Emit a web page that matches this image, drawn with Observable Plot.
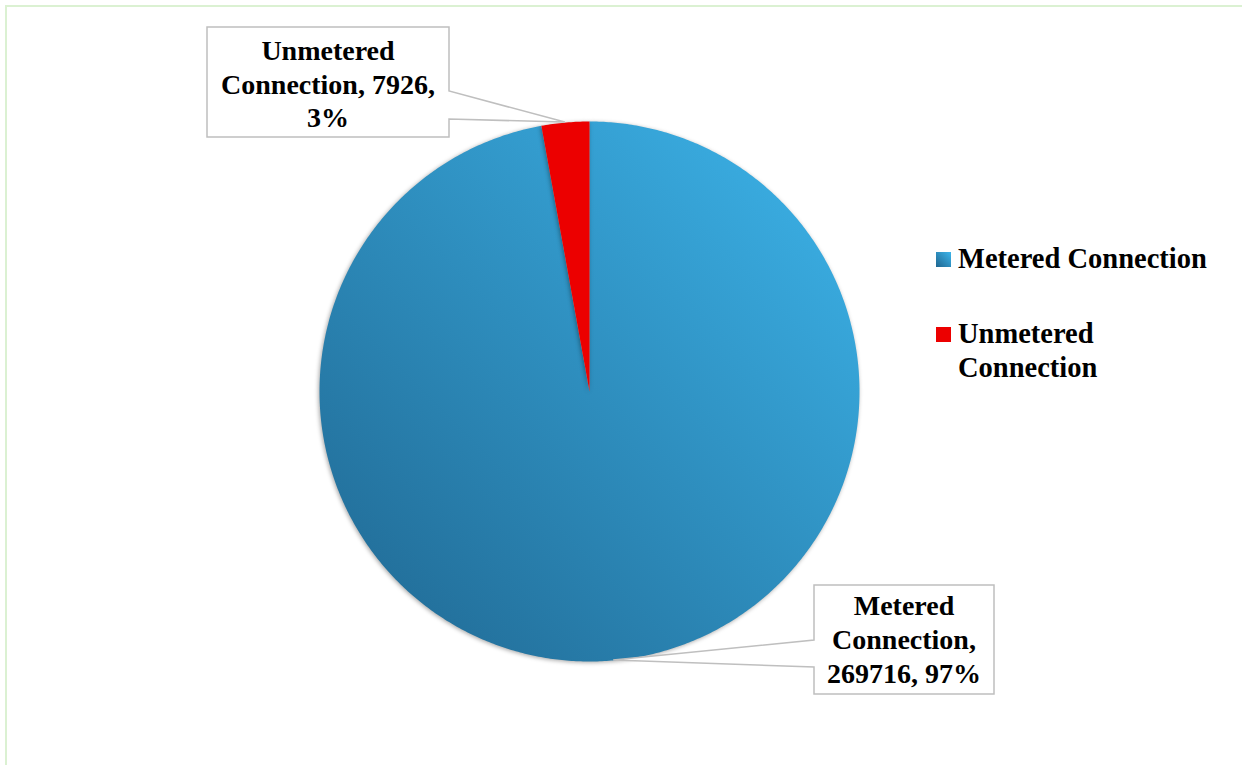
<!DOCTYPE html>
<html>
<head>
<meta charset="utf-8">
<script src="https://cdn.jsdelivr.net/npm/d3@7"></script>
<script src="https://cdn.jsdelivr.net/npm/@observablehq/plot@0.6"></script>
<style>
  html, body { margin: 0; padding: 0; background: #fff; }
  #chart { position: relative; width: 1242px; height: 765px; overflow: hidden; }
  #frame { position: absolute; left: 5px; top: 5px; right: -10px; bottom: -10px;
           border-left: 2px solid #dbf1d2; border-top: 2px solid #dbf1d2; pointer-events: none; }
  #chart svg { position: absolute; left: 0; top: 0; }
</style>
</head>
<body>
<div id="chart"><div id="frame"></div></div>
<script>
// Water connections by metering status
const categories = ["Metered Connection", "Unmetered Connection"];
const values = [269716, 7926];
const sliceFills = ["url(#meteredFill)", "#ec0000"];
const swatchFills = ["url(#meteredFill)", "#ec0000"];

// Callout boxes: pixel rectangle, side where the pointer leaves, pointer base span, word breaks
const callouts = [
  {x0: 814, y0: 585, x1: 994, y1: 694, side: "left", b0: 640, b1: 667, breaks: [1, 2], baselines: [615, 649, 683]},
  {x0: 207, y0: 27, x1: 449, y1: 137, side: "right", b0: 91, b1: 119, breaks: [1, 3], baselines: [60, 94, 127]}
];

const total = d3.sum(values);
const pct = d3.format(".0%");
const arcs = d3.pie().sort(null)(values);

// Slice outlines in unit-circle coordinates (clockwise from 12 o'clock)
const slices = arcs.flatMap((a, i) => {
  const n = Math.max(2, Math.ceil((a.endAngle - a.startAngle) / (Math.PI / 360)));
  const pts = [{slice: categories[i], x: 0, y: 0}];
  for (let k = 0; k <= n; k++) {
    const t = a.startAngle + (a.endAngle - a.startAngle) * k / n;
    pts.push({slice: categories[i], x: Math.sin(t), y: Math.cos(t)});
  }
  pts.push({slice: categories[i], x: 0, y: 0});
  return pts;
});

const FONT = "'Liberation Serif', 'Times New Roman', serif";

function gradientDefs() {
  const defs = d3.create("svg:defs");
  const lg = defs.append("linearGradient").attr("id", "meteredFill")
    .attr("x1", 1).attr("y1", 0).attr("x2", 0).attr("y2", 1);
  lg.append("stop").attr("offset", 0).attr("stop-color", "#3db5eb");
  lg.append("stop").attr("offset", 1).attr("stop-color", "#1f6690");
  return defs.node();
}

function calloutMark(index, scales) {
  const g = d3.create("svg:g").attr("aria-label", "data labels");
  arcs.forEach((a, i) => {
    const c = callouts[i];
    const mid = (a.startAngle + a.endAngle) / 2;
    const tx = scales.x(Math.sin(mid)), ty = scales.y(Math.cos(mid));
    let d;
    if (c.side === "right") {
      d = `M${c.x0},${c.y0}H${c.x1}V${c.b0}L${tx},${ty}L${c.x1},${c.b1}V${c.y1}H${c.x0}Z`;
    } else {
      d = `M${c.x0},${c.y0}H${c.x1}V${c.y1}H${c.x0}V${c.b1}L${tx},${ty}L${c.x0},${c.b0}Z`;
    }
    g.append("path").attr("d", d).attr("fill", "#fff").attr("stroke", "#bfbfbf").attr("stroke-width", 1.5);
    const words = `${categories[i]}, ${values[i]}, ${pct(values[i] / total)}`.split(" ");
    const cuts = [0, ...c.breaks, words.length];
    const lines = cuts.slice(0, -1).map((s, k) => words.slice(s, cuts[k + 1]).join(" "));
    const cx = (c.x0 + c.x1) / 2;
    lines.forEach((line, k) => {
      g.append("text").attr("x", cx).attr("y", c.baselines[k])
        .attr("text-anchor", "middle").attr("font-family", FONT).attr("font-weight", "bold")
        .attr("font-size", 28).attr("fill", "#000").text(line);
    });
  });
  return g.node();
}

function legendMark() {
  const g = d3.create("svg:g").attr("aria-label", "legend");
  const rows = [
    {y: 252, wrap: false, base: [268]},
    {y: 327, wrap: true, base: [343, 377]}
  ];
  rows.forEach((r, i) => {
    g.append("rect").attr("x", 936).attr("y", r.y).attr("width", 15).attr("height", 15).attr("fill", swatchFills[i]);
    const lines = r.wrap ? categories[i].split(" ") : [categories[i]];
    lines.forEach((t, k) => {
      g.append("text").attr("x", 958).attr("y", r.base[k]).attr("text-anchor", "start")
        .attr("font-family", FONT).attr("font-weight", "bold").attr("font-size", 28.5)
        .attr("fill", "#000").text(t);
    });
  });
  return g.node();
}

const plot = Plot.plot({
  width: 1242,
  height: 765,
  margin: 0,
  x: {domain: [-1, 1], range: [319, 859], axis: null},
  y: {domain: [-1, 1], range: [661, 121], axis: null},
  style: {background: "transparent", overflow: "visible"},
  marks: [
    gradientDefs,
    ...categories.map((c, i) =>
      Plot.line(slices.filter((d) => d.slice === c), {x: "x", y: "y", fill: sliceFills[i], stroke: "none"})
    ),
    calloutMark,
    legendMark
  ]
});

d3.select(plot).selectAll('g[aria-label="line"]')
  .style("filter", "drop-shadow(-1px 1px 2px rgba(0,0,0,0.35))");

document.getElementById("chart").appendChild(plot);
</script>
</body>
</html>
